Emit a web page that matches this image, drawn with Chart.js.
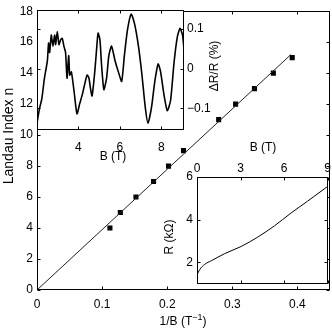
<!DOCTYPE html>
<html>
<head>
<meta charset="utf-8">
<script src="https://cdn.jsdelivr.net/npm/chart.js@4/dist/chart.umd.min.js"></script>
<style>
body { margin: 0; background: #fff; }
#wrap { position: relative; width: 332px; height: 329px; }
canvas { position: absolute; }
</style>
</head>
<body>
<div id="wrap">
  <canvas id="main_chart" style="left:0;top:0" width="332" height="329"></canvas>
  <canvas id="osc_chart" style="left:0;top:0" width="240" height="170"></canvas>
  <canvas id="res_chart" style="left:150px;top:130px" width="182" height="165"></canvas>
</div>
<script>
// main plot: Landau index vs 1/B
let inv_b = [0.112, 0.128, 0.152, 0.179, 0.202, 0.225, 0.279, 0.305, 0.334, 0.363, 0.392];
let landau_n = [4, 5, 6, 7, 8, 9, 11, 12, 13, 14, 15];
let fit_x = [0, 0.39];
let fit_n = [0, 15.2];
let main_x_ticks = [0, 0.1, 0.2, 0.3, 0.4];
let main_y_ticks = [0, 2, 4, 6, 8, 10, 12, 14, 16, 18];

// upper inset: dR/R (%) vs B (T)
let osc_b = [2.0, 2.12, 2.23, 2.36, 2.5, 2.56, 2.61, 2.69, 2.77, 2.85, 2.9, 2.98, 3.06, 3.14, 3.22, 3.3,
  3.38, 3.45, 3.53, 3.58, 3.66, 3.79, 3.93, 4.06, 4.19, 4.3, 4.42, 4.51, 4.58, 4.66, 4.79, 4.89, 4.95,
  5.04, 5.12, 5.23, 5.36, 5.47, 5.6, 5.77, 5.93, 6.09, 6.22, 6.37, 6.55, 6.71, 6.9, 7.07, 7.23, 7.36,
  7.53, 7.69, 7.85, 7.97, 8.13, 8.29, 8.45, 8.62, 8.78, 8.91, 9.03, 9.1];
let osc_dr = [-0.138, -0.101, -0.077, -0.024, 0.020, 0.065, 0.041, 0.085, 0.057, 0.085, 0.061, 0.094,
  0.061, 0.073, 0.077, 0.057, 0.041, -0.024, 0.033, -0.016, -0.008, -0.057, -0.114, -0.089, -0.065,
  -0.040, -0.016, -0.024, -0.049, -0.069, -0.008, 0.057, 0.090, 0.073, 0.008, -0.053, -0.024, 0.033,
  0.057, 0.020, -0.008, -0.032, 0.033, 0.098, 0.138, 0.114, 0.057, -0.016, -0.098, -0.138, -0.098,
  -0.032, 0.012, -0.008, -0.065, -0.106, -0.081, 0.016, 0.081, 0.102, 0.085, 0.049];
let osc_x_ticks = [4, 6, 8];
let osc_y_ticks = [-0.1, 0, 0.1];

// lower inset: R (kOhm) vs B (T)
let res_b = [0, 0.19, 0.53, 0.99, 1.9, 3.05, 4.19, 5.33, 6.47, 7.62, 9.0];
let res_r = [1.42, 1.67, 1.91, 2.08, 2.41, 2.75, 3.19, 3.71, 4.31, 4.87, 5.56];
let res_x_ticks = [0, 3, 6, 9];
let res_y_ticks = [2, 4, 6];

Chart.defaults.font.family = "'Liberation Sans', Arial, sans-serif";
Chart.defaults.font.size = 12;
Chart.defaults.color = '#000';

function pairs(xs, ys) {
  return xs.map((x, i) => ({x: x, y: ys[i]}));
}

function fmt(v) {
  if (v === 0) return '0';
  return (v < 0 ? '\u2212' : '') + Math.abs(v);
}

// axis with fixed size, own tick list, no chart.js grid
function axis(pos, min, max, ticks, size, pad) {
  let horiz = pos === 'top' || pos === 'bottom';
  return {
    type: 'linear', position: pos, min: min, max: max,
    grid: {display: false, drawTicks: false},
    border: {display: false},
    ticks: {padding: pad, callback: fmt, maxRotation: 0, autoSkip: false},
    afterBuildTicks: (s) => { s.ticks = ticks.map(v => ({value: v})); },
    afterFit: (s) => { if (horiz) s.height = size; else s.width = size; }
  };
}

// box, inward ticks, white plot background and text labels
const frame_plugin = {
  id: 'frame',
  beforeDraw(chart, args, opts) {
    let a = chart.chartArea, ctx = chart.ctx;
    if (opts.fill) {
      ctx.save();
      ctx.fillStyle = '#fff';
      ctx.fillRect(a.left, a.top, a.right - a.left, a.bottom - a.top);
      ctx.restore();
    }
  },
  afterDraw(chart, args, opts) {
    let a = chart.chartArea, ctx = chart.ctx;
    let tl = opts.tick || 3;
    ctx.save();
    ctx.strokeStyle = '#000';
    ctx.lineWidth = 1;
    let l = Math.round(a.left) + 0.5, r = Math.round(a.right) - 0.5;
    let t = Math.round(a.top) + 0.5, b = Math.round(a.bottom) - 0.5;
    ctx.strokeRect(l, t, r - l, b - t);
    ctx.beginPath();
    Object.values(chart.scales).forEach(s => {
      s.ticks.forEach(tk => {
        let p = Math.round(s.getPixelForValue(tk.value)) + 0.5;
        if (s.isHorizontal()) {
          ctx.moveTo(p, t); ctx.lineTo(p, t + tl);
          ctx.moveTo(p, b); ctx.lineTo(p, b - tl);
        } else {
          ctx.moveTo(l, p); ctx.lineTo(l + tl, p);
          ctx.moveTo(r, p); ctx.lineTo(r - tl, p);
        }
      });
    });
    ctx.stroke();
    ctx.fillStyle = '#000';
    ctx.textBaseline = 'middle';
    (opts.texts || []).forEach(tx => {
      ctx.save();
      ctx.translate(tx.x, tx.y);
      if (tx.rot) ctx.rotate(-Math.PI / 2);
      let size = tx.size || 12;
      ctx.font = size + "px 'Liberation Sans', Arial, sans-serif";
      let w = ctx.measureText(tx.text).width;
      let sw = 0, sw2 = 0;
      if (tx.sup) {
        ctx.font = Math.round(size * 0.75) + "px 'Liberation Sans', Arial, sans-serif";
        sw = ctx.measureText(tx.sup).width;
        ctx.font = size + "px 'Liberation Sans', Arial, sans-serif";
        sw2 = ctx.measureText(tx.after).width;
      }
      let x0 = -(w + sw + sw2) / 2;
      ctx.textAlign = 'left';
      ctx.fillText(tx.text, x0, 0);
      if (tx.sup) {
        ctx.font = Math.round(size * 0.75) + "px 'Liberation Sans', Arial, sans-serif";
        ctx.fillText(tx.sup, x0 + w, -size * 0.4);
        ctx.font = size + "px 'Liberation Sans', Arial, sans-serif";
        ctx.fillText(tx.after, x0 + w + sw, 0);
      }
      ctx.restore();
    });
    ctx.restore();
  }
};

new Chart('main_chart', {
  type: 'scatter',
  data: {
    datasets: [{
      data: pairs(fit_x, fit_n),
      showLine: true, borderColor: '#222', borderWidth: 1, pointRadius: 0
    }, {
      data: pairs(inv_b, landau_n),
      pointStyle: 'rect', pointRadius: 3.6, backgroundColor: '#000', borderColor: '#000', borderWidth: 0
    }]
  },
  options: {
    responsive: false, animation: false, devicePixelRatio: 1,
    layout: {padding: {left: 0, top: 5, right: 2, bottom: 0}, autoPadding: false},
    scales: {
      x: axis('bottom', 0, 0.45, main_x_ticks, 39, 7),
      y: axis('left', 0, 18, main_y_ticks, 37, 4)
    },
    plugins: {
      legend: {display: false}, tooltip: {enabled: false},
      frame: {tick: 3, texts: [
        {text: 'Landau Index n', x: 9, y: 136, rot: true, size: 14},
        {text: '1/B (T', sup: '\u22121', after: ')', x: 183, y: 322}
      ]}
    }
  },
  plugins: [frame_plugin]
});

new Chart('osc_chart', {
  type: 'scatter',
  data: {
    datasets: [{
      data: pairs(osc_b, osc_dr),
      showLine: true, borderColor: '#000', borderWidth: 1.6, pointRadius: 0, tension: 0.2
    }]
  },
  options: {
    responsive: false, animation: false, devicePixelRatio: 1,
    layout: {padding: {left: 37, top: 5, right: 0, bottom: 0}, autoPadding: false},
    scales: {
      x: axis('bottom', 2, 9.1, osc_x_ticks, 40, 10),
      y: axis('right', -0.155, 0.148, osc_y_ticks, 56, 3)
    },
    plugins: {
      legend: {display: false}, tooltip: {enabled: false},
      frame: {tick: 3, fill: true, texts: [
        {text: 'B (T)', x: 113, y: 157},
        {text: '\u0394R/R (%)', x: 215, y: 66, rot: true}
      ]}
    }
  },
  plugins: [frame_plugin]
});

new Chart('res_chart', {
  type: 'scatter',
  data: {
    datasets: [{
      data: pairs(res_b, res_r),
      showLine: true, borderColor: '#000', borderWidth: 1, pointRadius: 0, cubicInterpolationMode: 'monotone'
    }]
  },
  options: {
    responsive: false, animation: false, devicePixelRatio: 1,
    layout: {padding: {left: 0, top: 0, right: 2, bottom: 5}, autoPadding: false},
    scales: {
      x: axis('top', 0, 9, res_x_ticks, 47, 1),
      y: axis('left', 1, 6, res_y_ticks, 47, 4)
    },
    plugins: {
      legend: {display: false}, tooltip: {enabled: false},
      frame: {tick: 3, fill: true, texts: [
        {text: 'B (T)', x: 113, y: 18},
        {text: 'R (k\u03a9)', x: 20, y: 107, rot: true}
      ]}
    }
  },
  plugins: [frame_plugin]
});
</script>
</body>
</html>
